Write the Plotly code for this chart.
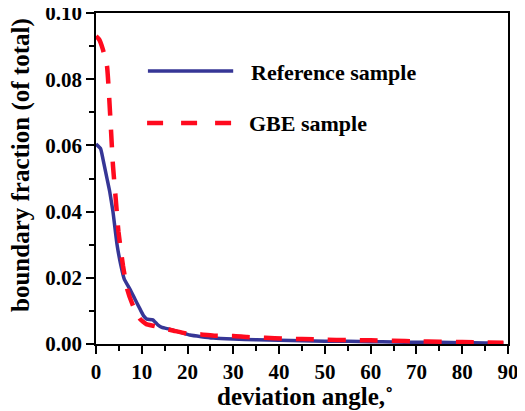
import plotly.graph_objects as go

ref_x = [0, 1, 1.5, 2.4, 3, 3.7, 4.6, 5.4, 6.2, 7.4, 8.5, 9.6, 10.4, 11.1, 12.4, 13.5, 14.4, 16, 18.3, 20.5, 23, 25.6, 30, 35, 40, 45, 50, 55, 60, 65, 70, 75, 80, 85, 89]
ref_y = [0.0604, 0.059, 0.056, 0.050, 0.046, 0.040, 0.030, 0.024, 0.0195, 0.0166, 0.0136, 0.0106, 0.0085, 0.0075, 0.0073, 0.0058,
         0.0050, 0.0045, 0.0036, 0.0027, 0.0022, 0.0018, 0.0015, 0.0013, 0.0011, 0.0010, 0.0008, 0.0008, 0.0007, 0.0006,
         0.0005, 0.0005, 0.0004, 0.0003, 0.0003]

gbe_x = [0, 0.7, 1.5, 2.4, 2.9, 3.3, 3.7, 4.3, 4.9, 5.9, 6.8, 8.1, 9.6, 11, 12.5, 14.5, 17, 20, 23, 26, 30, 33, 37, 41, 45, 50, 55, 60, 65, 70, 75, 80, 85, 89]
gbe_y = [0.093, 0.092, 0.089, 0.084, 0.074, 0.064, 0.054, 0.044, 0.034, 0.0236, 0.0166, 0.0115, 0.0076, 0.0060, 0.0055,
         0.0048, 0.0040, 0.0031, 0.0029, 0.0025, 0.0024, 0.0021, 0.0019, 0.0016, 0.0015, 0.0013, 0.0012, 0.0011, 0.0010,
         0.0008, 0.0007, 0.0006, 0.0005, 0.0004]

labels = ["Reference sample", "GBE sample"]
blue = "#363696"
red = "#ff0a1e"
font = "Liberation Serif"

fig = go.Figure()
fig.add_trace(go.Scatter(x=ref_x, y=ref_y, mode="lines", line=dict(color=blue, width=3.5, shape="spline", smoothing=0.4), name=labels[0]))
fig.add_trace(go.Scatter(x=gbe_x, y=gbe_y, mode="lines", line=dict(color=red, width=4.5, dash="18px,14px", shape="spline", smoothing=0.4), name=labels[1]))

# legend drawn manually
fig.add_shape(type="line", xref="paper", yref="paper", x0=0.126, x1=0.333, y0=0.825, y1=0.825, line=dict(color=blue, width=3.5))
fig.add_shape(type="line", xref="paper", yref="paper", x0=0.124, x1=0.333, y0=0.668, y1=0.668, line=dict(color=red, width=4.5, dash="16px,18px"))
fig.add_annotation(xref="paper", yref="paper", x=0.372, y=0.820, text="<b>%s</b>" % labels[0], showarrow=False, xanchor="left", yanchor="middle", font=dict(family=font, size=22, color="black"))
fig.add_annotation(xref="paper", yref="paper", x=0.367, y=0.666, text="<b>%s</b>" % labels[1], showarrow=False, xanchor="left", yanchor="middle", font=dict(family=font, size=22, color="black"))

# axis titles
fig.add_annotation(xref="paper", yref="paper", x=0.507, y=-0.158, text="<b>deviation angle,˚</b>", showarrow=False, xanchor="center", yanchor="middle", font=dict(family=font, size=25, color="black"))
fig.add_annotation(xref="paper", yref="paper", x=-0.182, y=0.541, text="<b>boundary fraction (of total)</b>", textangle=-90, showarrow=False, xanchor="center", yanchor="middle", font=dict(family=font, size=25, color="black"))

axis_common = dict(showline=True, linecolor="black", linewidth=1.5, mirror=True, ticks="outside", ticklen=8, tickwidth=1.5,
                   tickcolor="black", showgrid=False, zeroline=False, automargin=False, ticklabeloverflow="allow",
                   tickfont=dict(family=font, size=21, color="black"))
fig.update_xaxes(range=[0, 90], dtick=10, tick0=0, minor=dict(ticks="outside", ticklen=5, tickwidth=1.5, dtick=5, tick0=0, tickcolor="black", showgrid=False),
                 tickprefix="<b>", ticksuffix="</b>", **axis_common)
fig.update_yaxes(range=[0, 0.1], dtick=0.02, tick0=0, tickformat=".2f", minor=dict(ticks="outside", ticklen=5, tickwidth=1.5, dtick=0.01, tick0=0, tickcolor="black", showgrid=False),
                 tickprefix="<b>", ticksuffix="</b>", **axis_common)
# the page body adds an 8px offset, so the figure is sized to fit the window
fig.update_layout(width=517, height=403, margin=dict(l=88, r=17, t=5, b=67), showlegend=False,
                  plot_bgcolor="white", paper_bgcolor="white")
fig.write_html("out.html")
